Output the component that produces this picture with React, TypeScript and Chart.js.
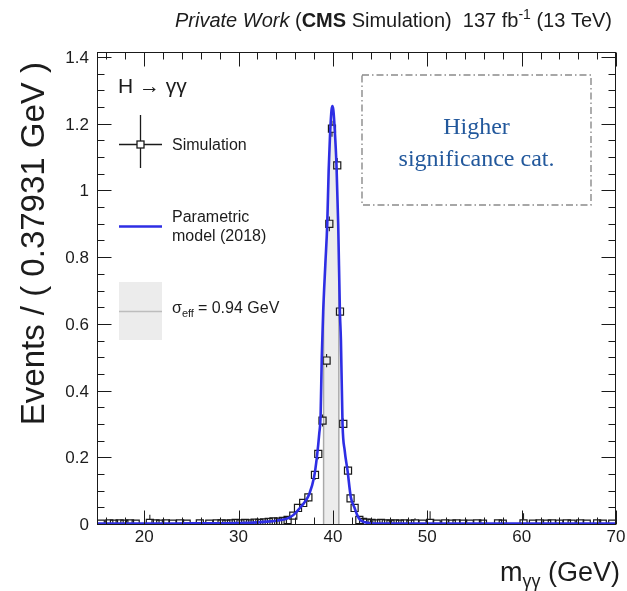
import React, { useEffect, useRef } from 'react';
import { Chart, registerables } from 'chart.js';

Chart.register(...registerables);

// ---------- data ----------
const X_MIN = 15;
const X_MAX = 70;
const Y_MIN = -0.003;
const Y_MAX = 1.415;

const X_TICK_LABELS = [20, 30, 40, 50, 60, 70];
const Y_TICK_LABELS = [0, 0.2, 0.4, 0.6, 0.8, 1, 1.2, 1.4];
const X_MINOR_STEP = 2;
const Y_MINOR_STEP = 0.05;

// Parametric model (2018) curve
const MODEL_X = [15, 20, 25, 30, 32, 33, 34, 35, 35.5, 36, 36.5, 37, 37.5, 38, 38.3, 38.55, 38.7, 38.82, 38.97, 39.2, 39.4, 39.55, 39.7, 39.85, 39.95, 40.05, 40.2, 40.38, 40.56, 40.74, 40.85, 41.02, 41.25, 41.55, 41.9, 42.3, 42.6, 42.9, 43.4, 44, 46, 50, 60, 70];
const MODEL_Y = [0.001, 0.001, 0.002, 0.003, 0.005, 0.007, 0.010, 0.015, 0.021, 0.032, 0.048, 0.065, 0.090, 0.140, 0.200, 0.270, 0.330, 0.500, 0.637, 0.780, 0.900, 1.060, 1.170, 1.240, 1.253, 1.240, 1.180, 1.075, 0.900, 0.637, 0.550, 0.300, 0.220, 0.160, 0.080, 0.048, 0.025, 0.012, 0.005, 0.002, 0.001, 0.001, 0.001, 0.001];

// Simulation points
const SIM_X = [15.4, 16.3, 16.8, 17.4, 17.9, 18.5, 19.1, 20.6, 21.2, 21.7, 22.3, 23.0, 23.8, 24.5, 25.9, 26.9, 27.7, 28.2, 28.7, 29.2, 29.7, 30.2, 30.7, 31.2, 31.7, 32.2, 32.7, 33.2, 33.7, 34.2, 34.7, 35.2, 35.8, 36.3, 36.85, 37.4, 38.1, 38.45, 38.9, 39.33, 39.62, 39.9, 40.46, 40.75, 41.1, 41.6, 41.87, 42.3, 42.8, 43.2, 43.6, 44.1, 44.6, 45.1, 45.6, 46.1, 46.6, 47.1, 47.6, 48.2, 48.7, 49.5, 50.3, 51.0, 51.9, 52.6, 53.1, 53.8, 54.5, 55.3, 55.9, 57.5, 58.0, 60.2, 61.2, 61.9, 62.7, 63.2, 64.0, 64.8, 65.3, 66.2, 66.9, 68.0, 68.6, 69.6];
const SIM_Y = [0.001, 0.002, 0.001, 0.002, 0.001, 0.002, 0.001, 0.003, 0.002, 0.001, 0.002, 0.001, 0.002, 0.001, 0.002, 0.001, 0.002, 0.002, 0.001, 0.002, 0.003, 0.002, 0.003, 0.002, 0.004, 0.003, 0.005, 0.006, 0.008, 0.007, 0.009, 0.012, 0.025, 0.048, 0.063, 0.080, 0.147, 0.210, 0.310, 0.490, 0.900, 1.185, 1.075, 0.637, 0.300, 0.160, 0.077, 0.048, 0.012, 0.006, 0.004, 0.003, 0.002, 0.003, 0.002, 0.001, 0.002, 0.001, 0.002, 0.001, 0.002, 0.001, 0.003, 0.001, 0.002, 0.001, 0.002, 0.001, 0.001, 0.002, 0.001, 0.002, 0.001, 0.002, 0.001, 0.002, 0.001, 0.002, 0.001, 0.002, 0.001, 0.002, 0.001, 0.002, 0.001, 0.001];
const SIM_ERR = [0.004, 0.004, 0.003, 0.004, 0.003, 0.004, 0.003, 0.025, 0.004, 0.003, 0.004, 0.003, 0.004, 0.003, 0.004, 0.003, 0.004, 0.004, 0.012, 0.004, 0.005, 0.004, 0.005, 0.004, 0.006, 0.005, 0.006, 0.007, 0.008, 0.007, 0.008, 0.009, 0.010, 0.012, 0.012, 0.013, 0.015, 0.016, 0.018, 0.020, 0.022, 0.024, 0.022, 0.020, 0.016, 0.013, 0.011, 0.009, 0.006, 0.005, 0.004, 0.004, 0.004, 0.004, 0.004, 0.003, 0.004, 0.003, 0.004, 0.003, 0.015, 0.003, 0.035, 0.003, 0.004, 0.003, 0.004, 0.003, 0.003, 0.004, 0.003, 0.004, 0.003, 0.030, 0.003, 0.004, 0.003, 0.004, 0.003, 0.004, 0.003, 0.004, 0.003, 0.004, 0.003, 0.003];

const SIGMA_EFF_LO = 38.92;
const SIGMA_EFF_HI = 40.72;

const TITLE_RUNS = [
  { t: 'Private Work', style: 'italic', size: 20, dy: 0 },
  { t: ' (', style: '', size: 20, dy: 0 },
  { t: 'CMS', style: 'bold', size: 20, dy: 0 },
  { t: ' Simulation)  137 fb', style: '', size: 20, dy: 0 },
  { t: '-1', style: '', size: 14, dy: -8 },
  { t: ' (13 TeV)', style: '', size: 20, dy: 0 },
];
const Y_TITLE = 'Events / ( 0.37931 GeV )';
const LEGEND_PROCESS = 'H \u2192 \u03b3\u03b3';
const LEGEND_SIM = 'Simulation';
const LEGEND_MODEL = ['Parametric', 'model (2018)'];
const LEGEND_SIGMA = '= 0.94 GeV';
const BOX_TEXT = ['Higher', 'significance cat.'];

// ---------- styling ----------
const SANS = '"Liberation Sans", Arial, Helvetica, sans-serif';
const SERIF = '"Liberation Serif", "DejaVu Serif", serif';
const BLUE = '#2e2ee4';
const TEXT = '#1c1c1c';
const BAND_FILL = '#ececec';
const BAND_LINE = '#a9a9a9';

function font(size: number, style = '', family = SANS) {
  return `${style} ${size}px ${family}`.trim();
}

function drawRuns(ctx: CanvasRenderingContext2D, runs: { t: string; style: string; size: number; dy: number }[], xRight: number, baseline: number) {
  let total = 0;
  for (const r of runs) {
    ctx.font = font(r.size, r.style);
    total += ctx.measureText(r.t).width;
  }
  let x = xRight - total;
  ctx.textAlign = 'left';
  ctx.textBaseline = 'alphabetic';
  for (const r of runs) {
    ctx.font = font(r.size, r.style);
    ctx.fillText(r.t, x, baseline + r.dy);
    x += ctx.measureText(r.t).width;
  }
}

const customPlugin = {
  id: 'rootStyle',
  beforeDraw(chart: any) {
    const ctx = chart.ctx as CanvasRenderingContext2D;
    ctx.save();
    ctx.fillStyle = '#ffffff';
    ctx.fillRect(0, 0, chart.width, chart.height);
    ctx.restore();
  },
  beforeDatasetsDraw(chart: any) {
    const ctx = chart.ctx as CanvasRenderingContext2D;
    const area = chart.chartArea;
    const xs = chart.scales.x;
    const ys = chart.scales.y;
    const base = ys.getPixelForValue(0);

    // sigma_eff band under the model curve
    const line: any = chart.getDatasetMeta(0).dataset;
    if (line) {
      const x0 = xs.getPixelForValue(SIGMA_EFF_LO);
      const x1 = xs.getPixelForValue(SIGMA_EFF_HI);
      line.updateControlPoints(area, 'x');
      const pts = line.points;
      ctx.save();
      ctx.beginPath();
      ctx.rect(x0, area.top, x1 - x0, base - area.top);
      ctx.clip();
      ctx.beginPath();
      line.path(ctx);
      ctx.lineTo(pts[pts.length - 1].x, base);
      ctx.lineTo(pts[0].x, base);
      ctx.closePath();
      ctx.fillStyle = BAND_FILL;
      ctx.fill();
      ctx.clip();
      ctx.strokeStyle = BAND_LINE;
      ctx.lineWidth = 1.6;
      ctx.beginPath();
      ctx.moveTo(x0 + 0.8, base);
      ctx.lineTo(x0 + 0.8, area.top);
      ctx.moveTo(x1 - 0.8, base);
      ctx.lineTo(x1 - 0.8, area.top);
      ctx.stroke();
      ctx.restore();
    }

    // error bars (outside the open square markers)
    const half = 3.6;
    ctx.save();
    ctx.strokeStyle = '#222';
    ctx.lineWidth = 1.1;
    ctx.beginPath();
    for (let i = 0; i < SIM_X.length; i++) {
      const px = xs.getPixelForValue(SIM_X[i]);
      const py = ys.getPixelForValue(SIM_Y[i]);
      const up = ys.getPixelForValue(SIM_Y[i] + SIM_ERR[i]);
      const dn = ys.getPixelForValue(Math.max(SIM_Y[i] - SIM_ERR[i], Y_MIN));
      if (py - up > half) {
        ctx.moveTo(px, py - half);
        ctx.lineTo(px, up);
      }
      if (dn - py > half) {
        ctx.moveTo(px, py + half);
        ctx.lineTo(px, dn);
      }
    }
    ctx.stroke();
    ctx.restore();
  },
  afterDatasetsDraw(chart: any) {
    const ctx = chart.ctx as CanvasRenderingContext2D;
    const area = chart.chartArea;
    const xs = chart.scales.x;
    const ys = chart.scales.y;
    const L = Math.round(area.left) + 0.5;
    const R = Math.round(area.right) - 0.5;
    const T = Math.round(area.top) + 0.5;
    const B = Math.round(area.bottom) - 0.5;
    ctx.save();
    ctx.strokeStyle = '#1a1a1a';
    ctx.lineWidth = 1;
    ctx.beginPath();
    // x ticks (bottom and top, pointing inside)
    for (let v = 16; v <= X_MAX + 1e-9; v += X_MINOR_STEP) {
      const px = Math.round(xs.getPixelForValue(v)) + 0.5;
      const len = Math.abs(v % 10) < 1e-9 ? 14 : 7;
      ctx.moveTo(px, B);
      ctx.lineTo(px, B - len);
      ctx.moveTo(px, T);
      ctx.lineTo(px, T + len);
    }
    // y ticks (left and right)
    let k = 0;
    for (let v = 0; v <= 1.4 + 1e-9; v += Y_MINOR_STEP, k++) {
      const py = Math.round(ys.getPixelForValue(v)) + 0.5;
      const len = k % 4 === 0 ? 14 : 7;
      ctx.moveTo(L, py);
      ctx.lineTo(L + len, py);
      ctx.moveTo(R, py);
      ctx.lineTo(R - len, py);
    }
    ctx.stroke();
    ctx.strokeRect(L, T, R - L, B - T);
    ctx.restore();
  },
  afterDraw(chart: any) {
    const ctx = chart.ctx as CanvasRenderingContext2D;
    const xs = chart.scales.x;
    const ys = chart.scales.y;
    ctx.save();
    ctx.fillStyle = TEXT;

    // tick labels
    ctx.font = font(17);
    ctx.textBaseline = 'alphabetic';
    ctx.textAlign = 'right';
    for (const v of Y_TICK_LABELS) {
      const py = ys.getPixelForValue(v);
      ctx.fillText(String(Number(v.toFixed(1))), 89, py + 6);
    }
    ctx.textAlign = 'center';
    for (const v of X_TICK_LABELS) {
      const px = xs.getPixelForValue(v);
      ctx.fillText(String(v), px, 542);
    }

    // header
    drawRuns(ctx, TITLE_RUNS, 612, 27);

    // x title
    drawRuns(
      ctx,
      [
        { t: 'm', style: '', size: 27, dy: 0 },
        { t: '\u03b3\u03b3', style: '', size: 18, dy: 6 },
        { t: ' (GeV)', style: '', size: 27, dy: 0 },
      ],
      620,
      581
    );

    // y title
    ctx.save();
    ctx.translate(44, 62);
    ctx.rotate(-Math.PI / 2);
    ctx.font = font(33);
    ctx.textAlign = 'right';
    ctx.textBaseline = 'alphabetic';
    ctx.fillText(Y_TITLE, 0, 0);
    ctx.restore();

    // legend
    ctx.textAlign = 'left';
    ctx.font = font(21);
    ctx.fillText(LEGEND_PROCESS, 118, 93);

    // simulation marker
    const cx = 140.5;
    const cy = 144.5;
    ctx.strokeStyle = '#1a1a1a';
    ctx.lineWidth = 1.3;
    ctx.beginPath();
    ctx.moveTo(cx, 115);
    ctx.lineTo(cx, cy - 3.5);
    ctx.moveTo(cx, cy + 3.5);
    ctx.lineTo(cx, 168);
    ctx.moveTo(119, cy);
    ctx.lineTo(cx - 3.5, cy);
    ctx.moveTo(cx + 3.5, cy);
    ctx.lineTo(162, cy);
    ctx.stroke();
    ctx.strokeRect(cx - 3.5, cy - 3.5, 7, 7);
    ctx.font = font(16);
    ctx.fillText(LEGEND_SIM, 172, 150);

    // model
    ctx.strokeStyle = BLUE;
    ctx.lineWidth = 2.6;
    ctx.beginPath();
    ctx.moveTo(119, 226.5);
    ctx.lineTo(162, 226.5);
    ctx.stroke();
    ctx.fillText(LEGEND_MODEL[0], 172, 222);
    ctx.fillText(LEGEND_MODEL[1], 172, 241);

    // sigma eff
    ctx.fillStyle = BAND_FILL;
    ctx.fillRect(119, 282, 43, 58);
    ctx.strokeStyle = '#bdbdbd';
    ctx.lineWidth = 1.5;
    ctx.beginPath();
    ctx.moveTo(119, 311.5);
    ctx.lineTo(162, 311.5);
    ctx.stroke();
    ctx.fillStyle = TEXT;
    let sx = 172;
    ctx.font = font(16);
    ctx.fillText('\u03c3', sx, 313);
    sx += ctx.measureText('\u03c3').width;
    ctx.font = font(11);
    ctx.fillText('eff', sx, 317);
    sx += ctx.measureText('eff').width + 4;
    ctx.font = font(16);
    ctx.fillText(LEGEND_SIGMA, sx, 313);

    // category box
    ctx.strokeStyle = '#8a8a8a';
    ctx.lineWidth = 1.4;
    ctx.setLineDash([7, 3, 1.5, 3]);
    ctx.strokeRect(362, 75, 229, 130);
    ctx.setLineDash([]);
    ctx.fillStyle = '#22589c';
    ctx.font = font(24, '', SERIF);
    ctx.textAlign = 'center';
    ctx.fillText(BOX_TEXT[0], 476.5, 134);
    ctx.fillText(BOX_TEXT[1], 476.5, 166);

    ctx.restore();
  },
};

export default function App() {
  const canvasRef = useRef<HTMLCanvasElement | null>(null);

  useEffect(() => {
    const canvas = canvasRef.current;
    if (!canvas) return;
    const modelData = MODEL_X.map((x, i) => ({ x, y: MODEL_Y[i] }));
    const simData = SIM_X.map((x, i) => ({ x, y: SIM_Y[i] }));
    const chart = new Chart(canvas, {
      type: 'scatter',
      data: {
        datasets: [
          {
            label: 'Parametric model (2018)',
            data: modelData,
            showLine: true,
            borderColor: BLUE,
            borderWidth: 2.6,
            pointRadius: 0,
            cubicInterpolationMode: 'monotone',
            fill: false,
          } as any,
          {
            label: 'Simulation',
            data: simData,
            showLine: false,
            pointStyle: 'rect',
            pointRadius: 5,
            pointBorderWidth: 1.2,
            pointBorderColor: '#1a1a1a',
            pointBackgroundColor: 'rgba(0,0,0,0)',
          } as any,
        ],
      },
      options: {
        responsive: false,
        animation: false,
        events: [],
        layout: { padding: { left: 97, top: 52, right: 11, bottom: 66 } },
        scales: {
          x: { type: 'linear', min: X_MIN, max: X_MAX, display: false },
          y: { type: 'linear', min: Y_MIN, max: Y_MAX, display: false },
        },
        plugins: {
          legend: { display: false },
          tooltip: { enabled: false },
          title: { display: false },
        },
      },
      plugins: [customPlugin as any],
    });
    return () => chart.destroy();
  }, []);

  return (
    <div style={{ position: 'absolute', left: 0, top: 0, width: 627, height: 591, background: '#fff' }}>
      <canvas ref={canvasRef} width={627} height={591} style={{ display: 'block' }} />
    </div>
  );
}
